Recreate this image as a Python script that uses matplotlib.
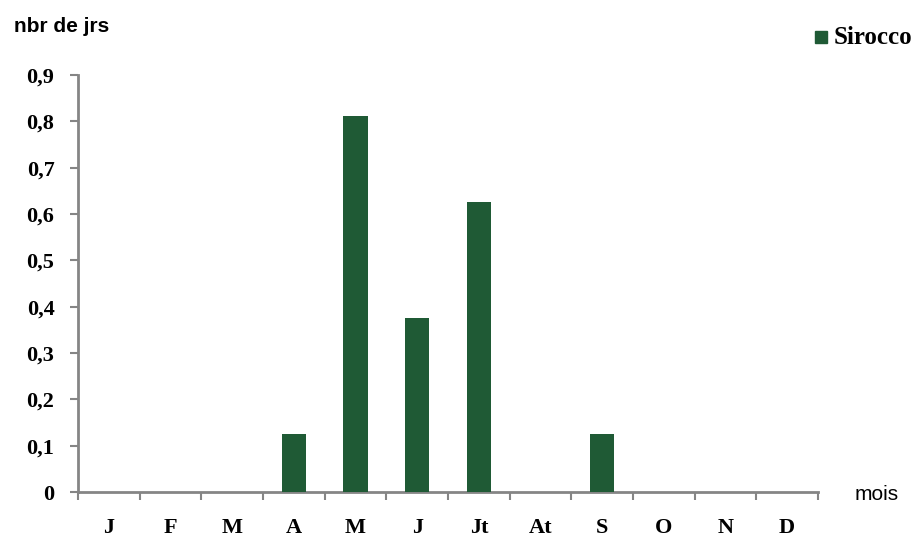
import matplotlib as mpl
import matplotlib.pyplot as plt
import numpy as np
from matplotlib.patches import Rectangle

mpl.use('Agg')

months = ["J", "F", "M", "A", "M", "J", "Jt", "At", "S", "O", "N", "D"]
sirocco = [0, 0, 0, 0.125, 0.8125, 0.375, 0.625, 0, 0.125, 0, 0, 0]
yticks = [0, 0.1, 0.2, 0.3, 0.4, 0.5, 0.6, 0.7, 0.8, 0.9]
ytick_labels = ["0", "0,1", "0,2", "0,3", "0,4", "0,5", "0,6", "0,7", "0,8", "0,9"]

bar_color = "#1f5a35"
axis_color = "#858585"
serif = "Liberation Serif"
sans = "Liberation Sans"

fig = plt.figure(figsize=(9.23, 5.4), dpi=100)
ax = fig.add_axes([78 / 923, 1 - 492 / 540, 740 / 923, 417 / 540])

x = np.arange(len(months))
ax.bar(x, sirocco, width=0.39, color=bar_color, zorder=3)

ax.set_xlim(-0.5, len(months) - 0.5)
ax.set_ylim(0, 0.9)

for side in ["top", "right"]:
    ax.spines[side].set_visible(False)
for side in ["left", "bottom"]:
    ax.spines[side].set_color(axis_color)
    ax.spines[side].set_linewidth(2)

ax.set_yticks(yticks)
ax.set_yticklabels(ytick_labels, fontfamily=serif, fontweight="bold", fontsize=16)
ax.tick_params(axis="y", length=6, width=1.5, color=axis_color, pad=11)

# boundaries as major ticks, month labels on minor ticks
ax.set_xticks(np.arange(-0.5, len(months) + 0.5, 1))
ax.set_xticklabels([])
ax.tick_params(axis="x", which="major", length=6, width=1.5, color=axis_color)
ax.set_xticks(x, minor=True)
ax.set_xticklabels(months, minor=True, fontfamily=serif, fontweight="bold", fontsize=16)
ax.tick_params(axis="x", which="minor", length=0, pad=19)

fig.text(14 / 923, 1 - 27 / 540, "nbr de jrs", fontfamily=sans, fontweight="bold",
         fontsize=15, va="center", ha="left")
fig.text(855 / 923, 1 - 494 / 540, "mois", fontfamily=sans, fontsize=15,
         va="center", ha="left")

# legend
fig.patches.append(Rectangle((815 / 923, 1 - 43 / 540), 12 / 923, 12 / 540,
                             transform=fig.transFigure, color=bar_color))
fig.text(834 / 923, 1 - 37 / 540, "Sirocco", fontfamily=serif, fontweight="bold",
         fontsize=18, va="center", ha="left")

fig.savefig("out.png", dpi=100)
